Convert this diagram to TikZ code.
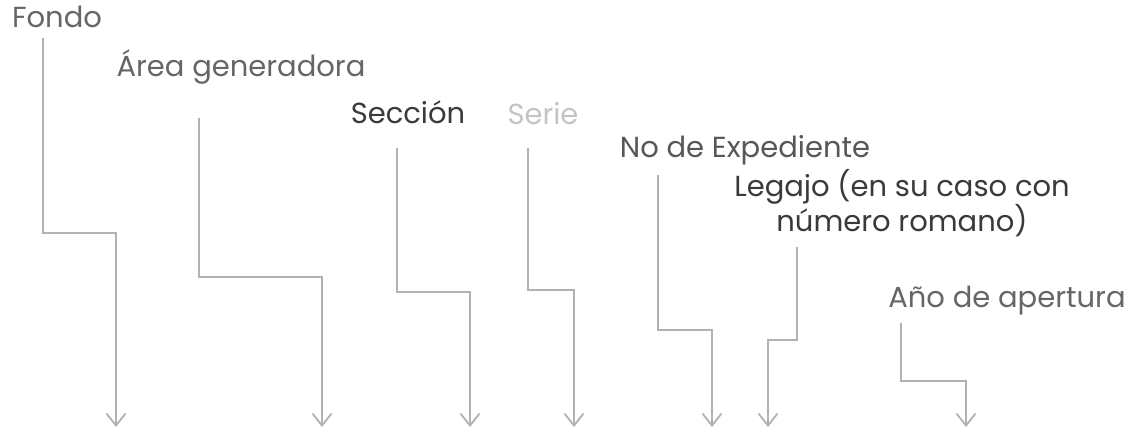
\documentclass[tikz,border=0pt]{standalone}
\usepackage{fontspec}
\setmainfont{Poppins}
\usetikzlibrary{arrows.meta}

\definecolor{linegray}{HTML}{B2B2B2}
\definecolor{midgray}{HTML}{666666}
\definecolor{darkgray}{HTML}{3A3A3A}
\definecolor{palegray}{HTML}{C4C4C4}

\begin{document}
\begin{tikzpicture}[x=1pt, y=-1pt,
    lbl/.style={font=\fontsize{29}{30}\selectfont, inner sep=0pt},
    conn/.style={draw=linegray, line width=1.8pt,
        -{Straight Barb[length=12pt, width=19pt, line width=1.8pt]}}]

    \useasboundingbox (0,0) rectangle (1131,435);

    % Labels
    \node[lbl, text=midgray, anchor=base] (fondo) at (57,28) {Fondo};
    \node[lbl, text=midgray, anchor=base] (area) at (241,77) {Área generadora};
    \node[lbl, text=darkgray, anchor=base] (seccion) at (408,124) {Sección};
    \node[lbl, text=palegray, anchor=base] (serie) at (543,125) {Serie};
    \node[lbl, text=darkgray!85, anchor=base] (expediente) at (745,158) {No de Expediente};
    \node[lbl, text=darkgray, align=center, anchor=base] (legajo) at (902,232)
        {Legajo (en su caso con\\número romano)};
    \node[lbl, text=midgray, anchor=base] (anio) at (1007,308) {Año de apertura};

    % Start, bend and end points
    \coordinate (fondo-s) at (43,38);
    \coordinate (fondo-m) at (116,233);
    \coordinate (fondo-e) at (116,427);

    \coordinate (area-s) at (199,118);
    \coordinate (area-m) at (322,277);
    \coordinate (area-e) at (322,427);

    \coordinate (seccion-s) at (397,148);
    \coordinate (seccion-m) at (470,292);
    \coordinate (seccion-e) at (470,427);

    \coordinate (serie-s) at (528,148);
    \coordinate (serie-m) at (574,290);
    \coordinate (serie-e) at (574,427);

    \coordinate (expediente-s) at (658,175);
    \coordinate (expediente-m) at (712,330);
    \coordinate (expediente-e) at (712,427);

    \coordinate (legajo-s) at (797,247);
    \coordinate (legajo-m) at (768,340);
    \coordinate (legajo-e) at (768,427);

    \coordinate (anio-s) at (901,323);
    \coordinate (anio-m) at (966,381);
    \coordinate (anio-e) at (966,427);

    % Connectors
    \draw[conn] (fondo-s) |- (fondo-m) -- (fondo-e);
    \draw[conn] (area-s) |- (area-m) -- (area-e);
    \draw[conn] (seccion-s) |- (seccion-m) -- (seccion-e);
    \draw[conn] (serie-s) |- (serie-m) -- (serie-e);
    \draw[conn] (expediente-s) |- (expediente-m) -- (expediente-e);
    \draw[conn] (legajo-s) |- (legajo-m) -- (legajo-e);
    \draw[conn] (anio-s) |- (anio-m) -- (anio-e);

\end{tikzpicture}
\end{document}
